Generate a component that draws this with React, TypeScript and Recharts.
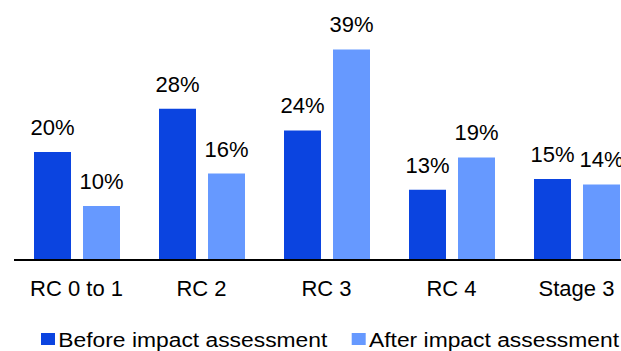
import React from 'react';
import { BarChart, Bar, XAxis, YAxis, LabelList } from 'recharts';

// Share of exposures per risk class, before and after the impact assessment (%)
const categories = ['RC 0 to 1', 'RC 2', 'RC 3', 'RC 4', 'Stage 3'];
const beforeValues = [20, 28, 24, 13, 15];
const afterValues = [10, 16, 39, 19, 14];
const seriesNames = ['Before impact assessment', 'After impact assessment'];
const seriesColors = ['#0B44E0', '#6699FF'];

const data = categories.map((name, i) => ({
  name,
  before: beforeValues[i],
  after: afterValues[i],
}));

const FONT = '"Liberation Sans", Arial, Helvetica, sans-serif';
const pct = (v: any) => `${v}%`;

// Legend strip: swatch + stretched label per series
const legendItems = [
  { swatchX: 41, textX: 58.3, textLength: 269 },
  { swatchX: 351.7, textX: 369, textLength: 250 },
];

function ChartLegend() {
  return (
    <svg
      width={621}
      height={25}
      style={{ position: 'absolute', left: 0, top: 326, display: 'block' }}
    >
      {seriesNames.map((label, i) => (
        <g key={label}>
          <rect x={legendItems[i].swatchX} y={7} width={14} height={12} fill={seriesColors[i]} />
          <text
            x={legendItems[i].textX}
            y={21.3}
            fontSize={20}
            fontFamily={FONT}
            fill="#000"
            textLength={legendItems[i].textLength}
            lengthAdjust="spacingAndGlyphs"
          >
            {label}
          </text>
        </g>
      ))}
    </svg>
  );
}

export default function App() {
  return (
    <div
      style={{
        position: 'fixed',
        left: 0,
        top: 0,
        width: 621,
        height: 351,
        overflow: 'hidden',
        background: '#fff',
      }}
    >
      <BarChart
        width={639}
        height={351}
        data={data}
        margin={{ top: 44, right: 0, bottom: 61, left: 14 }}
        barGap={12}
        barSize={37}
        style={{ fontFamily: FONT }}
      >
        <XAxis
          dataKey="name"
          height={30}
          axisLine={{ stroke: '#000', strokeWidth: 2 }}
          tickLine={false}
          tickSize={0}
          tickMargin={20}
          interval={0}
          tick={{ fill: '#000', fontSize: 22, fontFamily: FONT }}
        />
        <YAxis hide domain={[0, 40]} />
        <Bar dataKey="before" fill={seriesColors[0]} isAnimationActive={false}>
          <LabelList
            dataKey="before"
            position="top"
            offset={17}
            formatter={pct}
            style={{ fill: '#000', fontSize: 22, fontFamily: FONT }}
          />
        </Bar>
        <Bar dataKey="after" fill={seriesColors[1]} isAnimationActive={false}>
          <LabelList
            dataKey="after"
            position="top"
            offset={17}
            formatter={pct}
            style={{ fill: '#000', fontSize: 22, fontFamily: FONT }}
          />
        </Bar>
      </BarChart>
      <ChartLegend />
    </div>
  );
}
